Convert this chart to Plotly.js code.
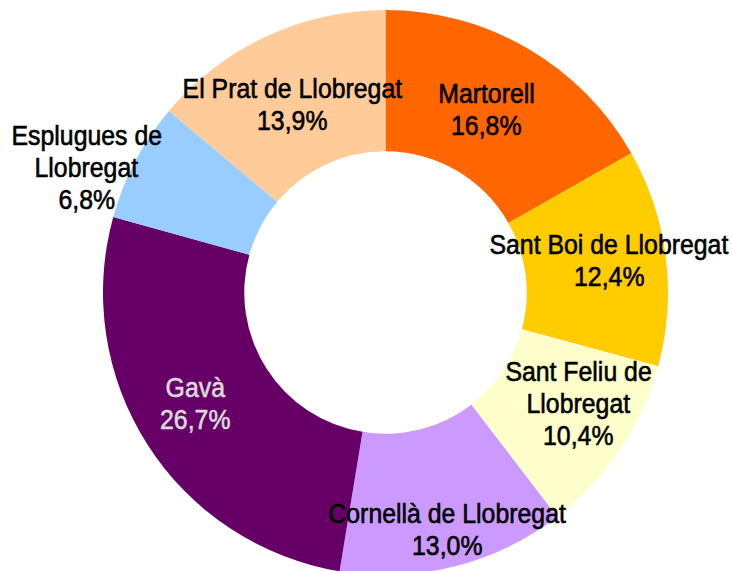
<!DOCTYPE html>
<html>
<head>
<meta charset="utf-8">
<script src="https://cdn.plot.ly/plotly-3.0.1.min.js"></script>
<style>
html,body{margin:0;padding:0;overflow:hidden;background:#fff;}
#chart{width:732px;height:577px;}
#chart text.annotation-text{transform-box:fill-box;transform-origin:center;transform:scaleX(0.92);}
</style>
</head>
<body>
<div id="chart"></div>
<script>
// Data
const municipalities = ["Martorell", "Sant Boi de Llobregat", "Sant Feliu de Llobregat", "Cornellà de Llobregat", "Gavà", "Esplugues de Llobregat", "El Prat de Llobregat"];
const labelLines = ["Martorell", "Sant Boi de Llobregat", "Sant Feliu de<br>Llobregat", "Cornellà de Llobregat", "Gavà", "Esplugues de<br>Llobregat", "El Prat de Llobregat"];
const shares = [16.8, 12.4, 10.4, 13.0, 26.7, 6.8, 13.9];
const colors = ["#FF6600", "#FFCC00", "#FFFFCC", "#CC99FF", "#660066", "#99CCFF", "#FFCC99"];
const textColors = ["#000000", "#000000", "#000000", "#000000", "#D9D9D9", "#000000", "#000000"];

// Label placement (style, not data): radius factor and angle offset in degrees
const labelRadius = [0.74, 0.80, 0.79, 0.87, 0.78, 1.145, 0.74];
const labelAngleOffset = [-1.2, -0.8, -3.8, -0.5, 2.1, -5.1, -1.4];

const W = 732, H = 577;
const margin = {l: 0, r: 0, t: 10, b: 2};
const plotW = W - margin.l - margin.r, plotH = H - margin.t - margin.b;
const cxPx = 385.5;
const R = plotH / 2;
const cyPx = margin.t + R;
const domainX = [(cxPx - R) / plotW, (cxPx + R) / plotW];

const total = shares.reduce((a, b) => a + b, 0);
let cum = 0;
const annotations = [];
shares.forEach((v, i) => {
  const mid = (cum + v / 2) / total * 360 + labelAngleOffset[i];
  cum += v;
  const a = mid * Math.PI / 180;
  const r = labelRadius[i] * R;
  const px = cxPx + r * Math.sin(a);
  const py = cyPx - r * Math.cos(a);
  const lines = labelLines[i].split("<br>").concat([v.toFixed(1).replace(".", ",") + "%"]);
  const n = lines.length;
  const spacing = 32;
  lines.forEach((ln, j) => {
    const off = (j - (n - 1) / 2) * spacing;
    annotations.push({
      xref: "paper", yref: "paper",
      x: (px - margin.l) / plotW,
      y: 1 - (py + off - margin.t) / plotH,
      text: ln, showarrow: false,
      xanchor: "center", yanchor: "middle",
      font: {family: "Liberation Sans, Arial, sans-serif", size: 27, color: textColors[i]}
    });
  });
});

const trace = {
  type: "pie",
  labels: municipalities,
  values: shares,
  hole: 0.5,
  sort: false,
  direction: "clockwise",
  rotation: 0,
  marker: {colors: colors, line: {width: 0}},
  textinfo: "none",
  hoverinfo: "label+percent",
  domain: {x: domainX, y: [0, 1]},
  showlegend: false
};

Plotly.newPlot("chart", [trace], {
  width: W, height: H,
  margin: margin,
  paper_bgcolor: "#ffffff",
  showlegend: false,
  annotations: annotations
}, {displayModeBar: false, staticPlot: true}).then(gd => {
  gd.querySelectorAll("text.annotation-text").forEach(t => {
    const f = t.style.fill;
    t.style.stroke = f;
    t.style.strokeWidth = "0.6px";
  });
});
</script>
</body>
</html>
